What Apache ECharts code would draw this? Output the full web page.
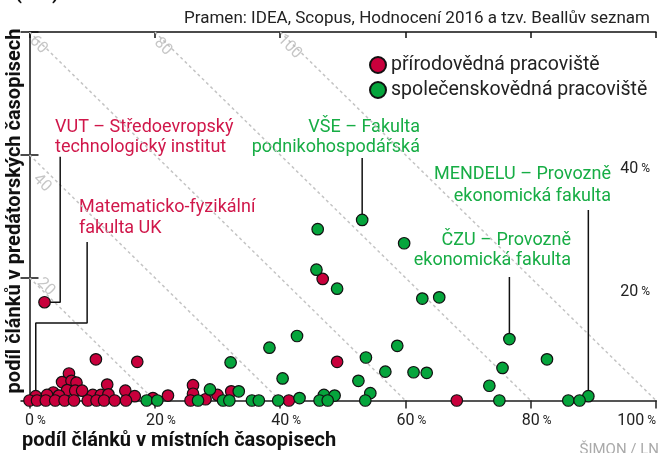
<!DOCTYPE html>
<html>
<head>
<meta charset="utf-8">
<script src="https://cdn.jsdelivr.net/npm/echarts@6/dist/echarts.min.js"></script>
<style>
  html, body { margin:0; padding:0; background:#fff; }
  #plot { width:659px; height:453px; }
</style>
</head>
<body>
<div id="plot"></div>
<script>
// podíl článků v místních (x) a predátorských (y) časopisech, v %
const naturalName = 'přírodovědná pracoviště';
const socialName  = 'společenskovědná pracoviště';

const naturalPoints = [
  [2.4,16.0],[46.8,19.8],[10.6,6.7],[17.2,6.3],[49.1,6.3],[6.3,4.4],[5.2,3.0],[6.7,3.2],
  [7.5,2.9],[12.4,2.6],[26.1,2.5],[26.1,1.1],[6.0,1.7],[7.3,1.6],[8.4,1.6],[3.8,1.3],
  [15.3,1.6],[32.2,1.5],[1.0,0.7],[2.8,0.9],[4.7,0.8],[10.1,0.9],[11.4,0.9],[12.6,1.0],
  [16.8,0.7],[22.1,0.8],[19.7,0.4],[28.1,0.2],[30.0,0.9],
  [0,0],[1.2,0],[2.6,0],[4.1,0],[5.6,0],[7.1,0],[9.3,0],[10.7,0],[11.9,0],[13.6,0],
  [15.4,0],[25.7,0],[41.4,0],[68.2,0]
];
const socialPoints = [
  [53.1,29.4],[46.0,27.9],[59.8,25.6],[45.8,21.3],[49.1,18.2],[62.7,16.6],[65.4,16.8],
  [42.7,10.5],[76.6,10.0],[38.3,8.6],[58.7,8.9],[53.7,7.0],[82.6,6.7],[32.1,6.2],[75.5,5.3],
  [56.8,4.7],[61.3,4.6],[63.4,4.5],[40.4,3.6],[52.5,3.2],[73.4,2.4],[28.8,1.8],[33.4,1.5],
  [54.4,1.2],[47.0,0.9],[48.7,0.8],[43.1,0.4],[89.2,0.7],
  [18.7,0],[20.4,0],[26.9,0],[30.9,0],[31.9,0],[35.5,0],[36.6,0],[39.7,0],[46.3,0],
  [47.6,0],[53.6,0],[75.0,0],[86.0,0],[87.8,0]
];

// součet obou podílů (šikmé čáry)
const sumLevels = [20,40,60,80,100];
// kde leží popisky šikmých čar (datové souřadnice)
const sumLabelAt = [[2.6,18.5],[2.0,35.4],[1.4,57.9],[21.3,57.6],[41.5,57.6]];

// vodítka k popiskům (datové souřadnice)
const leaders = [
  [[2.4,16.0],[4.9,16.0],[4.9,39.7]],
  [[1.0,0.7],[1.0,12.6],[9.2,12.6],[9.2,25.8]],
  [[53.1,29.4],[53.1,39.5]],
  [[76.6,10.0],[76.6,20.1]],
  [[89.2,0.7],[89.2,31.0]]
];

const FONT = 'Roboto, "Noto Sans", sans-serif';
const RED = '#c8003c', GREEN = '#05a53c';
const RED_TXT = '#d0174a', GREEN_TXT = '#17ad45';

const chart = echarts.init(document.getElementById('plot'), null, { renderer:'canvas' });

const diagSeries = sumLevels.map(c => ({
  type:'line', silent:true, symbol:'none', z:1,
  data:[[Math.max(0,c-60), Math.min(60,c)], [Math.min(100,c), c-Math.min(100,c)]],
  lineStyle:{ color:'#c4c4c4', width:1.5, type:[3,3] }
}));

const labelPts = sumLevels.map((c, i) => ({ value:sumLabelAt[i], name:String(c) }));

const leaderSeries = leaders.map(pts => ({
  type:'line', silent:true, symbol:'none', z:2, data:pts,
  lineStyle:{ color:'#111', width:1.5 }
}));

const dot = (color) => ({ color, opacity:1, borderColor:'#111', borderWidth:1.2 });

chart.setOption({
  backgroundColor:'#fff',
  animation:false,
  textStyle:{ fontFamily:FONT },
  grid:{ left:29.5, right:2, top:32, bottom:52.5 },
  legend:{
    orient:'vertical', left:364, top:50, itemGap:5,
    itemWidth:16, itemHeight:16, icon:'circle',
    textStyle:{ fontSize:19.5, color:'#222', fontFamily:FONT },
    data:[naturalName, socialName]
  },
  xAxis:[
    { type:'value', min:0, max:100, interval:20, position:'bottom',
      axisLine:{ onZero:false, lineStyle:{ color:'#555', width:2 } },
      axisTick:{ inside:false, length:8, lineStyle:{ color:'#222', width:1.5 } },
      splitLine:{ show:false },
      axisLabel:{ margin:12, alignMaxLabel:'right', color:'#222',
        formatter: v => '{n|' + v + '}{p| %}',
        padding:[0,0,0,12],
        rich:{ n:{ fontSize:16, color:'#222', fontFamily:FONT }, p:{ fontSize:12, color:'#222', fontFamily:FONT } } } },
    { type:'value', min:0, max:100, interval:20, position:'top',
      axisLine:{ onZero:false, lineStyle:{ color:'#111', width:1.5 } },
      axisTick:{ inside:true, length:6, lineStyle:{ color:'#111', width:1.5 } },
      splitLine:{ show:false }, axisLabel:{ show:false } }
  ],
  yAxis:[
    { type:'value', min:0, max:60, interval:20, position:'left',
      axisLine:{ show:true, onZero:false, lineStyle:{ color:'#111', width:1.5 } },
      axisTick:{ inside:true, length:9, lineStyle:{ color:'#111', width:1.5 } },
      splitLine:{ show:false }, axisLabel:{ show:false } },
    { type:'value', min:0, max:60, interval:20, position:'right',
      axisLine:{ show:false },
      axisTick:{ show:true, inside:true, length:9, lineStyle:{ color:'#111', width:1.5 } },
      splitLine:{ show:false },
      axisLabel:{ inside:true, margin:6, verticalAlign:'top', padding:[6,0,0,0],
        formatter: v => (v === 20 || v === 40) ? '{n|' + v + '}{p| %}' : '',
        rich:{ n:{ fontSize:16, color:'#222', fontFamily:FONT }, p:{ fontSize:12, color:'#222', fontFamily:FONT } } } }
  ],
  series:[
    ...diagSeries,
    { type:'scatter', silent:true, symbolSize:0, z:1, data:labelPts,
      label:{ show:true, formatter:'{b}', rotate:-45, position:'inside',
        color:'#b8b8b8', fontSize:16, fontFamily:FONT } },
    ...leaderSeries,
    { type:'scatter', name:naturalName, z:3, symbolSize:11.5, data:naturalPoints, itemStyle:dot(RED) },
    { type:'scatter', name:socialName,  z:3, symbolSize:11.5, data:socialPoints,  itemStyle:dot(GREEN) }
  ],
  graphic:[
    { type:'text', left:15, top:-16, style:{ text:'(v %) v letech 2013 až 2015.', font:'bold 20px ' + FONT, fill:'#111' } },
    { type:'text', right:9, top:10, style:{ text:'Pramen: IDEA, Scopus, Hodnocení 2016 a tzv. Beallův seznam', font:'17px ' + FONT, fill:'#222' } },
    { type:'text', x:15, y:211, rotation:Math.PI/2,
      style:{ text:'podíl článků v predátorských časopisech', font:'bold 20px ' + FONT, fill:'#111', textAlign:'center', textVerticalAlign:'middle' } },
    { type:'text', x:22, y:441,
      style:{ text:'podíl článků v místních časopisech', font:'bold 20px ' + FONT, fill:'#111', textAlign:'left', textVerticalAlign:'middle' } },
    { type:'text', x:659, y:450,
      style:{ text:'ŠIMON / LN', font:'15px ' + FONT, fill:'#aaa', textAlign:'right', textVerticalAlign:'middle' } },
    { type:'text', x:55, y:117,
      style:{ text:'VUT – Středoevropský\ntechnologický institut', font:'18px ' + FONT, lineHeight:20, fill:RED_TXT, textAlign:'left' } },
    { type:'text', x:79, y:197,
      style:{ text:'Matematicko-fyzikální\nfakulta UK', font:'18px ' + FONT, lineHeight:21, fill:RED_TXT, textAlign:'left' } },
    { type:'text', x:420, y:117,
      style:{ text:'VŠE – Fakulta\npodnikohospodářská', font:'18px ' + FONT, lineHeight:20, fill:GREEN_TXT, textAlign:'right' } },
    { type:'text', x:611, y:163,
      style:{ text:'MENDELU – Provozně\nekonomická fakulta', font:'18px ' + FONT, lineHeight:22, fill:GREEN_TXT, textAlign:'right' } },
    { type:'text', x:571, y:230,
      style:{ text:'ČZU – Provozně\nekonomická fakulta', font:'18px ' + FONT, lineHeight:20, fill:GREEN_TXT, textAlign:'right' } }
  ]
});
</script>
</body>
</html>
